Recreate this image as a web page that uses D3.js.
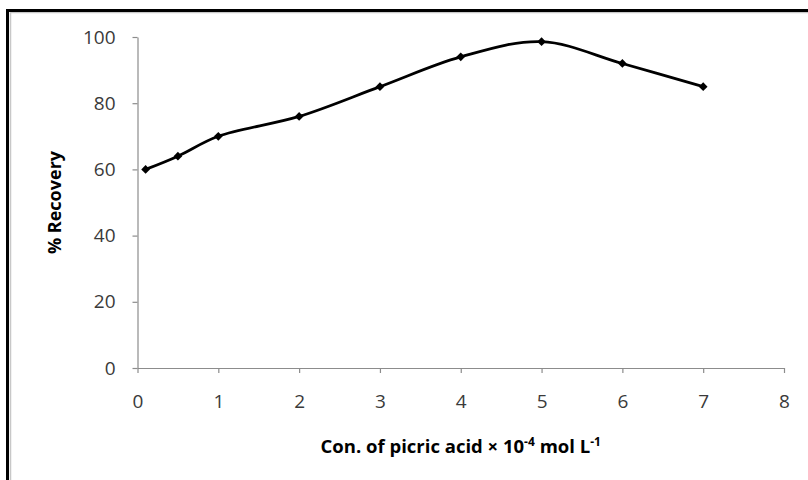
<!DOCTYPE html>
<html>
<head>
<meta charset="utf-8">
<script src="https://cdn.jsdelivr.net/npm/d3@7"></script>
<style>
html,body{margin:0;padding:0;background:#fff;}
svg{display:block;}
</style>
</head>
<body>
<svg id="chart" width="808" height="480"></svg>
<script>
const concentrations = [0.1, 0.5, 1, 2, 3, 4, 5, 6, 7];
const recovery = [60, 64, 70, 76, 85, 94, 98.6, 92, 85];
const xTicks = [0, 1, 2, 3, 4, 5, 6, 7, 8];
const yTicks = [0, 20, 40, 60, 80, 100];

const svg = d3.select("#chart");
const font = "'Open Sans', 'Liberation Sans', sans-serif";

// frame
svg.append("rect").attr("x", 10.5).attr("y", 12.5).attr("width", 820).attr("height", 500)
  .attr("fill", "none").attr("stroke", "#c8c8c8").attr("stroke-width", 1.5);
svg.append("path").attr("d", "M7.5,480V10.5H808")
  .attr("fill", "none").attr("stroke", "#000").attr("stroke-width", 3);

const x = d3.scaleLinear().domain([0, 8]).range([137.5, 784]);
const y = d3.scaleLinear().domain([0, 100]).range([368, 37]);

const axisColor = "#8c8c8c";

const gx = svg.append("g").attr("transform", `translate(0,${y(0)})`)
  .call(d3.axisBottom(x).tickValues(xTicks).tickSize(5).tickSizeOuter(0).tickPadding(22).tickFormat(d3.format("d")));
const gy = svg.append("g").attr("transform", `translate(${x(0)},0)`)
  .call(d3.axisLeft(y).tickValues(yTicks).tickSize(5).tickSizeOuter(0).tickPadding(17).tickFormat(d3.format("d")));

[gx, gy].forEach(g => {
  g.select(".domain").attr("stroke", axisColor).attr("stroke-width", 1.2);
  g.selectAll(".tick line").attr("stroke", axisColor).attr("stroke-width", 1.2);
  g.selectAll(".tick text").attr("fill", "#3a3a3a").style("font-family", font).style("font-size", "19px");
});

const data = concentrations.map((c, i) => ({x: c, y: recovery[i]}));

const line = d3.line().x(d => x(d.x)).y(d => y(d.y)).curve(d3.curveCatmullRom.alpha(0.5));
svg.append("path").datum(data).attr("d", line)
  .attr("fill", "none").attr("stroke", "#000").attr("stroke-width", 2.8);

svg.selectAll(".pt").data(data).enter().append("path")
  .attr("transform", d => `translate(${x(d.x)},${y(d.y)}) rotate(45)`)
  .attr("d", d3.symbol().type(d3.symbolSquare).size(38))
  .attr("fill", "#000");

// x title
const xt = svg.append("text").attr("x", (x(0) + x(8)) / 2).attr("y", 453)
  .attr("text-anchor", "middle").style("font-family", font).style("font-size", "18.5px")
  .style("font-weight", "bold").attr("fill", "#000");
xt.append("tspan").text("Con. of picric acid × 10");
xt.append("tspan").attr("dy", -7).style("font-size", "12px").text("-4");
xt.append("tspan").attr("dy", 7).text(" mol L");
xt.append("tspan").attr("dy", -7).style("font-size", "12px").text("-1");

// y title
svg.append("text").attr("transform", `translate(61,${(y(0) + y(100)) / 2}) rotate(-90)`)
  .attr("text-anchor", "middle").style("font-family", font).style("font-size", "18px")
  .style("font-weight", "bold").attr("fill", "#000").text("% Recovery");
</script>
</body>
</html>
